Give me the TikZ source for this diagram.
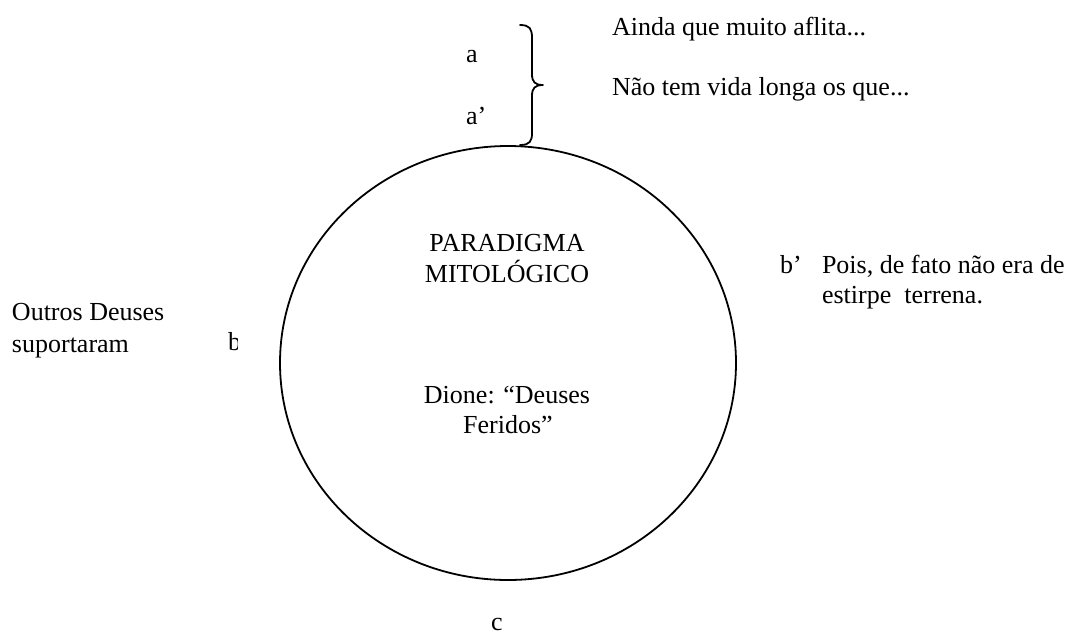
\documentclass[tikz,border=0pt]{standalone}
\usepackage{fontspec}
\setmainfont{Liberation Serif}
\usetikzlibrary{shapes.geometric}
\tikzset{
  txt/.style={inner sep=0pt, outer sep=0pt, font=\fontsize{26}{30}\selectfont},
  lbl/.style={txt, anchor=base west},
  ctr/.style={txt, anchor=base},
  ln/.style={line width=1.8pt, line cap=round, line join=round}
}
\begin{document}
\begin{tikzpicture}[x=1pt,y=-1pt]
\useasboundingbox (0,0) rectangle (1074,635);
% circle
\node (circ) [draw, ln, ellipse, inner sep=0pt, minimum width=456pt, minimum height=434pt] at (508,363) {};
% brace
\coordinate (btop) at (520,25);
\coordinate (btip) at (543,85);
\coordinate (bbot) at (520,145);
\draw[ln] (btop) .. controls (530,25) and (532,29) .. (532,38) -- (532,74)
  .. controls (532,82) and (535,85) .. (btip)
  .. controls (535,85) and (532,88) .. (532,96) -- (532,133)
  .. controls (532,141) and (530,145) .. (bbot);
% labels near brace
\node[lbl] (a) at (466,62) {a};
\node[lbl] (ap) at (466,124) {a’};
\node[lbl] (t1) at (612,35) {Ainda que muito aflita...};
\node[lbl] (t2) at (612,95) {Não tem vida longa os que...};
% inside circle
\node[ctr] (p1) at (507,251) {PARADIGMA};
\node[ctr] (p2) at (507,282) {MITOLÓGICO};
\node[ctr] (d1) at (507,403) {Dione: “Deuses};
\node[ctr] (d2) at (508,433) {Feridos”};
% right
\node[lbl] (bp) at (780,273) {b’};
\node[lbl] (r1) at (822,273) {Pois, de fato não era de};
\node[lbl] (r2) at (822,303) {estirpe\ \ terrena.};
% left
\node[lbl] (l1) at (12,320) {Outros Deuses};
\node[lbl] (l2) at (12,352) {suportaram};
\begin{scope}
\clip (220,300) rectangle (237,360);
\node[lbl] (b) at (228,350) {b};
\end{scope}
% bottom
\node[ctr] (c) at (497,630) {c};
\end{tikzpicture}
\end{document}
